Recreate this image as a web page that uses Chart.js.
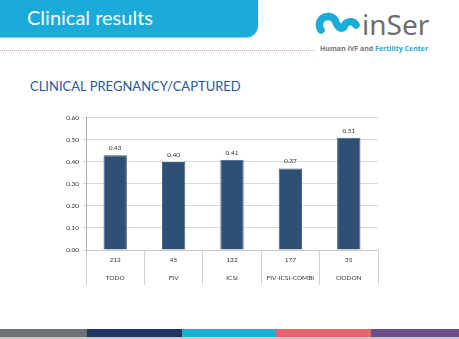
<!DOCTYPE html>
<html>
<head>
<meta charset="utf-8">
<script src="https://cdn.jsdelivr.net/npm/chart.js@4.4.0/dist/chart.umd.min.js"></script>
<style>
    body { margin: 0; width: 459px; height: 339px; background: #fff; position: relative; overflow: hidden; font-family: Lato, "Open Sans", sans-serif; }
    #header { position: absolute; left: 0; top: 0; width: 258px; height: 37px; background: #1aabd9; border-bottom-right-radius: 12px; border-bottom: 1px solid #7fd0ea; }
    #header h1 { margin: 0; position: absolute; left: 27px; top: 5px; font-size: 20px; font-weight: normal; color: #fff; }
    #dots { position: absolute; left: 0; top: 50px; width: 315px; border-top: 1px dotted #e8a0a8; }
    #logo { position: absolute; left: 313px; top: 6px; }
    #brand { position: absolute; left: 362px; top: 5px; font-size: 28px; color: #6d6e70; font-family: "Noto Sans", sans-serif; }
    #tagline { position: absolute; left: 320px; top: 44px; font-size: 7px; font-weight: bold; color: #77787a; font-family: "Open Sans", sans-serif; }
    #tagline span { color: #1aabd9; }
    #subtitle { position: absolute; left: 30px; top: 78px; margin: 0; font-size: 13px; font-weight: normal; color: #2b5797; }
    #chartbox { position: absolute; left: 50px; top: 110px; width: 340px; height: 185px; }
    #strip { position: absolute; left: 0; top: 329px; width: 459px; height: 8px; display: flex; border-bottom: 2px solid #c8c8c8; }
    #strip div { height: 8px; }
</style>
</head>
<body>
    <div id="header"><h1>Clinical results</h1></div>
    <div id="dots"></div>
    <svg id="logo" width="48" height="30" viewBox="0 0 48 30">
        <path d="M8 24 A8.5 8.5 0 1 1 22 14 Q26 25 31 21 A6.5 6.5 0 0 1 43 19" fill="none" stroke="#1aabd9" stroke-width="7.5" stroke-linecap="round"/>
    </svg>
    <div id="brand">inSer</div>
    <div id="tagline">Human IVF and <span>Fertility Center</span></div>
    <h2 id="subtitle">CLINICAL PREGNANCY/CAPTURED</h2>
    <div id="chartbox"><canvas id="chart"></canvas></div>
    <div id="strip">
        <div style="width:87px;background:#6b7379"></div>
        <div style="width:95px;background:#1e3566"></div>
        <div style="width:94px;background:#1aafd8"></div>
        <div style="width:95px;background:#e56570"></div>
        <div style="width:88px;background:#6b4e8a"></div>
    </div>
<script>
    const categories = ["TODO", "FIV", "ICSI", "FIV-ICSI-COMBI", "OODON"];
    const counts = ["212", "45", "132", "177", "35"];
    const rates = [0.43, 0.40, 0.41, 0.37, 0.51];

    const labels = [];
    for (var i = 0; i < categories.length; i++) {
        labels.push([counts[i], categories[i]]);
    }

    // value labels above the bars
    const valueLabels = {
        id: "valueLabels",
        afterDatasetsDraw(chart) {
            const ctx = chart.ctx;
            const meta = chart.getDatasetMeta(0);
            ctx.save();
            ctx.font = "6.5px Lato";
            ctx.fillStyle = "#333";
            ctx.textAlign = "center";
            ctx.textBaseline = "bottom";
            meta.data.forEach(function(bar, i) {
                ctx.fillText(rates[i].toFixed(2), bar.x, bar.y - 4);
            });
            ctx.restore();
        }
    };

    new Chart(document.getElementById("chart"), {
        type: "bar",
        data: {
            labels: labels,
            datasets: [{
                data: rates,
                backgroundColor: "#2f5074",
                borderColor: "#3d5f85",
                borderWidth: 1,
                categoryPercentage: 1,
                barPercentage: 0.4
            }]
        },
        options: {
            responsive: true,
            maintainAspectRatio: false,
            animation: false,
            layout: { padding: { top: 7, right: 12, bottom: 0, left: 0 } },
            plugins: { legend: { display: false }, tooltip: { enabled: false } },
            scales: {
                x: {
                    afterFit: function(scale) { scale.height = 45; },
                    grid: { offset: true, drawOnChartArea: false, color: "#d0d0d0", tickLength: 35 },
                    border: { color: "#c8c8c8" },
                    ticks: { padding: -34, color: "#333", font: { size: 6.5, family: "Lato", lineHeight: 2.8 } }
                },
                y: {
                    min: 0, max: 0.6,
                    afterFit: function(scale) { scale.width = 36; },
                    grid: { color: "#d8d8d8", tickLength: 3 },
                    border: { color: "#b0b0b0" },
                    ticks: { stepSize: 0.1, padding: 4, color: "#333", font: { size: 6.5, family: "Lato" },
                        callback: function(v) { return v.toFixed(2); } }
                }
            }
        },
        plugins: [valueLabels]
    });
</script>
</body>
</html>
